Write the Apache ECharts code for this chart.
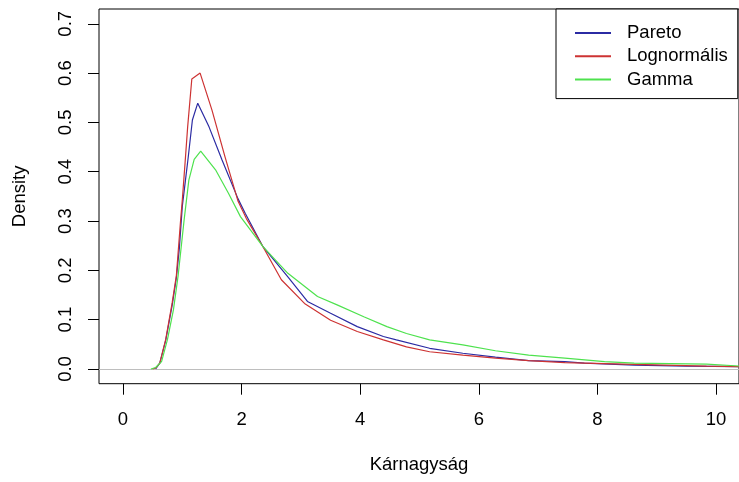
<!DOCTYPE html>
<html>
<head>
<meta charset="utf-8">
<script src="https://cdn.jsdelivr.net/npm/echarts@6/dist/echarts.min.js"></script>
<style>
  html, body { margin: 0; padding: 0; background: #fff; }
  #chart { width: 739px; height: 482px; }
</style>
</head>
<body>
<div id="chart"></div>
<script>
// density curves
const paretoX = [0.55, 0.62, 0.72, 0.83, 0.90, 0.95, 1.00, 1.05, 1.10, 1.17, 1.26, 1.45, 1.67, 1.94, 2.06, 2.36, 2.78, 3.11, 3.50, 3.95, 4.39, 4.61, 5.17, 5.73, 6.28, 6.84, 7.45, 7.78, 8.62, 9.50, 10.4];
const paretoY = [0, 0.012, 0.058, 0.13, 0.185, 0.245, 0.33, 0.38, 0.43, 0.505, 0.539, 0.491, 0.424, 0.345, 0.316, 0.248, 0.187, 0.137, 0.113, 0.086, 0.066, 0.059, 0.042, 0.032, 0.024, 0.017, 0.015, 0.012, 0.008, 0.006, 0.005];

const lognormX = [0.50, 0.55, 0.62, 0.72, 0.83, 0.90, 0.97, 1.00, 1.05, 1.09, 1.16, 1.30, 1.50, 1.72, 1.94, 2.08, 2.36, 2.67, 3.06, 3.50, 3.95, 4.39, 4.78, 5.17, 5.73, 6.28, 6.84, 7.45, 8.62, 9.84, 10.4];
const lognormY = [0, 0.002, 0.012, 0.06, 0.135, 0.19, 0.30, 0.343, 0.424, 0.491, 0.588, 0.600, 0.525, 0.43, 0.34, 0.305, 0.248, 0.181, 0.133, 0.099, 0.076, 0.059, 0.045, 0.035, 0.028, 0.022, 0.017, 0.013, 0.0095, 0.006, 0.005];

const gammaX = [0.47, 0.55, 0.65, 0.75, 0.85, 0.93, 1.03, 1.11, 1.20, 1.31, 1.56, 1.78, 1.98, 2.36, 2.78, 3.28, 3.61, 4.06, 4.45, 4.78, 5.17, 5.73, 6.28, 6.84, 7.45, 8.12, 8.62, 9.84, 10.4];
const gammaY = [0, 0.003, 0.015, 0.06, 0.12, 0.19, 0.302, 0.383, 0.425, 0.442, 0.404, 0.356, 0.309, 0.248, 0.194, 0.147, 0.130, 0.106, 0.086, 0.072, 0.059, 0.049, 0.037, 0.028, 0.022, 0.015, 0.012, 0.010, 0.006];

const seriesNames = ["Pareto", "Lognormális", "Gamma"];
const xTicks = [0, 2, 4, 6, 8, 10];
const yTicks = [0, 0.1, 0.2, 0.3, 0.4, 0.5, 0.6, 0.7];

const zip = (xs, ys) => xs.map((x, i) => [x, ys[i]]);

const chartDom = echarts.init(document.getElementById("chart"));
const font = "'Liberation Sans', Arial, sans-serif";

const lineSeries = (name, data, color) => ({
  name: name,
  type: "line",
  data: data,
  symbol: "none",
  smooth: false,
  lineStyle: { color: color, width: 1.2 },
  itemStyle: { color: color },
  z: 3,
});

const option = {
  backgroundColor: "#fff",
  animation: false,
  grid: {
    left: 99,
    top: 9,
    width: 647,
    height: 374.7,
    show: true,
    borderColor: "#000",
    borderWidth: 1,
    backgroundColor: "transparent",
  },
  legend: {
    orient: "vertical",
    left: 556,
    top: 9,
    padding: [14, 10, 9, 19],
    itemWidth: 36,
    itemHeight: 2,
    itemGap: 3.3,
    icon: "rect",
    borderColor: "#000",
    borderWidth: 1,
    backgroundColor: "#fff",
    data: seriesNames,
    textStyle: { fontFamily: font, fontSize: 18.5, color: "#000", lineHeight: 20, padding: [0, 0, 0, 11] },
  },
  xAxis: {
    type: "value",
    min: -0.405,
    max: 10.387,
    name: "Kárnagyság",
    nameLocation: "middle",
    nameGap: 72,
    nameTextStyle: { fontFamily: font, fontSize: 18.5, color: "#000" },
    axisLine: { show: false, onZero: false },
    axisTick: { show: true, customValues: xTicks, length: 11, lineStyle: { color: "#000" } },
    axisLabel: { customValues: xTicks, fontFamily: font, fontSize: 18.5, color: "#000", margin: 27 },
    splitLine: { show: false },
  },
  yAxis: {
    type: "value",
    min: -0.0298,
    max: 0.730,
    name: "Density",
    nameLocation: "middle",
    nameGap: 70,
    nameTextStyle: { fontFamily: font, fontSize: 18.5, color: "#000" },
    axisLine: { show: false, onZero: false },
    axisTick: { show: true, customValues: yTicks, length: 11, lineStyle: { color: "#000" } },
    axisLabel: {
      customValues: yTicks,
      rotate: 90,
      fontFamily: font,
      fontSize: 18.5,
      color: "#000",
      margin: 24,
      formatter: (v) => v.toFixed(1),
    },
    splitLine: { show: false },
  },
  series: [
    {
      ...lineSeries(seriesNames[0], zip(paretoX, paretoY), "#2b2ba3"),
      markLine: {
        silent: true,
        symbol: "none",
        label: { show: false },
        lineStyle: { color: "#bebebe", width: 1, type: "solid" },
        data: [{ yAxis: 0 }],
        z: 1,
      },
    },
    lineSeries(seriesNames[1], zip(lognormX, lognormY), "#cd3333"),
    lineSeries(seriesNames[2], zip(gammaX, gammaY), "#4ee24e"),
  ],
};

chartDom.setOption(option);
window.addEventListener("resize", () => chartDom.resize());
</script>
</body>
</html>
